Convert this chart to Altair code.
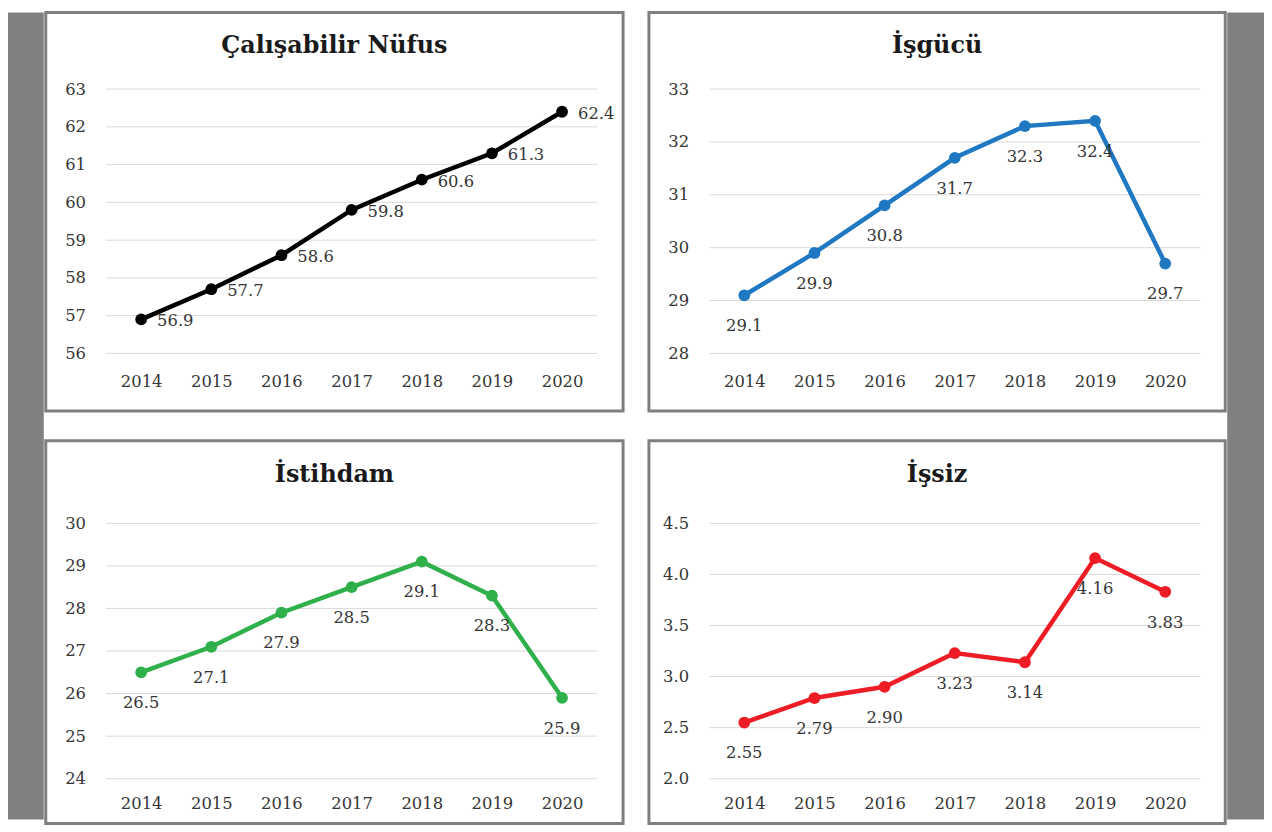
import altair as alt
import pandas as pd

years = [2014, 2015, 2016, 2017, 2018, 2019, 2020]
calisabilir = [56.9, 57.7, 58.6, 59.8, 60.6, 61.3, 62.4]
isgucu = [29.1, 29.9, 30.8, 31.7, 32.3, 32.4, 29.7]
istihdam = [26.5, 27.1, 27.9, 28.5, 29.1, 28.3, 25.9]
issiz = [2.55, 2.79, 2.90, 3.23, 3.14, 4.16, 3.83]

titles = ["Çalışabilir Nüfus", "İşgücü", "İstihdam", "İşsiz"]
colors = ["#000000", "#1f78c1", "#2fb04a", "#ee1c25"]
ticks_1 = [56, 57, 58, 59, 60, 61, 62, 63]
ticks_2 = [28, 29, 30, 31, 32, 33]
ticks_3 = [24, 25, 26, 27, 28, 29, 30]
ticks_4 = [2.0, 2.5, 3.0, 3.5, 4.0, 4.5]

FONT = "DejaVu Serif"
TXT = "#363636"
FS = 16.5
PX_YEAR = 70.6
LEFT_PX = 96


def panel(vals, title, color, ticks, tick_fmt, lab_fmt, mode,
          width, height, top_px, bot_px, xoff, title_off):
    xdom = [2014 - LEFT_PX / PX_YEAR, 2014 + (width - LEFT_PX) / PX_YEAR]
    gmin, gmax = ticks[0], ticks[-1]
    ppu = (bot_px - top_px) / (gmax - gmin)
    ydom = [gmin - (height - bot_px) / ppu, gmax + top_px / ppu]
    xs = alt.Scale(domain=xdom, nice=False, zero=False)
    ys = alt.Scale(domain=ydom, nice=False, zero=False)
    xax = alt.Axis(
        values=years, format="d", offset=-xoff, domain=False, ticks=False,
        tickSize=0, grid=False, labelPadding=0, labelBaseline="middle",
        labelFont=FONT, labelFontSize=FS, labelColor=TXT, labelFlush=False,
        labelOverlap=False, title=None)
    yax = alt.Axis(
        values=ticks, format=tick_fmt, offset=-40, domain=False, ticks=False,
        tickSize=0, grid=False, labelPadding=0, labelAlign="right",
        labelFont=FONT, labelFontSize=FS, labelColor=TXT, labelOverlap=False,
        title=None)

    df = pd.DataFrame({"year": years, "v": vals})
    gdf = pd.DataFrame({"t": ticks, "x0": [2013.5] * len(ticks), "x1": [2020.5] * len(ticks)})

    grid = alt.Chart(gdf).mark_rule(color="#d9d9d9", strokeWidth=1).encode(
        x=alt.X("x0:Q", scale=xs, axis=xax),
        x2="x1:Q",
        y=alt.Y("t:Q", scale=ys, axis=yax),
    )
    base = alt.Chart(df).encode(
        x=alt.X("year:Q", scale=xs, axis=xax),
        y=alt.Y("v:Q", scale=ys, axis=yax),
    )
    line = base.mark_line(color=color, strokeWidth=4.5)
    pts = base.mark_circle(color=color, size=140, opacity=1)
    if mode == "right":
        txt = base.mark_text(align="left", baseline="middle", dx=16, dy=2,
                             font=FONT, fontSize=FS, color=TXT)
    else:
        txt = base.mark_text(align="center", baseline="middle", dy=31,
                             font=FONT, fontSize=FS, color=TXT)
    txt = txt.encode(text=alt.Text("v:Q", format=lab_fmt))
    return alt.layer(grid, line, pts, txt).properties(
        width=width, height=height,
        title=alt.Title(title, offset=-title_off, fontSize=24, font=FONT,
                        fontWeight="bold", color="#1a1a1a", anchor="middle",
                        baseline="middle"),
        view=alt.ViewBackground(fill="white", stroke="#7f7f7f", strokeWidth=3),
    )


W_L, W_R = 581, 580
H_T, H_B = 401, 385
p1 = panel(calisabilir, titles[0], colors[0], ticks_1, "d", ".1f", "right",
           W_L, H_T, 77, 343, 30, 58)
p2 = panel(isgucu, titles[1], colors[1], ticks_2, "d", ".1f", "below",
           W_R, H_T, 77, 343, 30, 58)
p3 = panel(istihdam, titles[2], colors[2], ticks_3, "d", ".1f", "below",
           W_L, H_B, 83, 340, 20, 58)
p4 = panel(issiz, titles[3], colors[3], ticks_4, ".1f", ".2f", "below",
           W_R, H_B, 83, 340, 20, 58)


def strip(w):
    return alt.Chart(pd.DataFrame({"a": [0]})).mark_point(opacity=0, size=1).properties(
        width=w, height=H_T + H_B + 26,
        view=alt.ViewBackground(fill="#808080", strokeWidth=0),
    )


chart = alt.hconcat(
    strip(36),
    alt.hconcat(
        alt.vconcat(p1, p3, spacing=26),
        alt.vconcat(p2, p4, spacing=26),
        spacing=22,
    ),
    strip(37),
    spacing=0,
).configure(padding=0, background="white").configure_view(stroke="#7f7f7f")

chart.save("out.html", embed_options={"renderer": "svg", "actions": False})
